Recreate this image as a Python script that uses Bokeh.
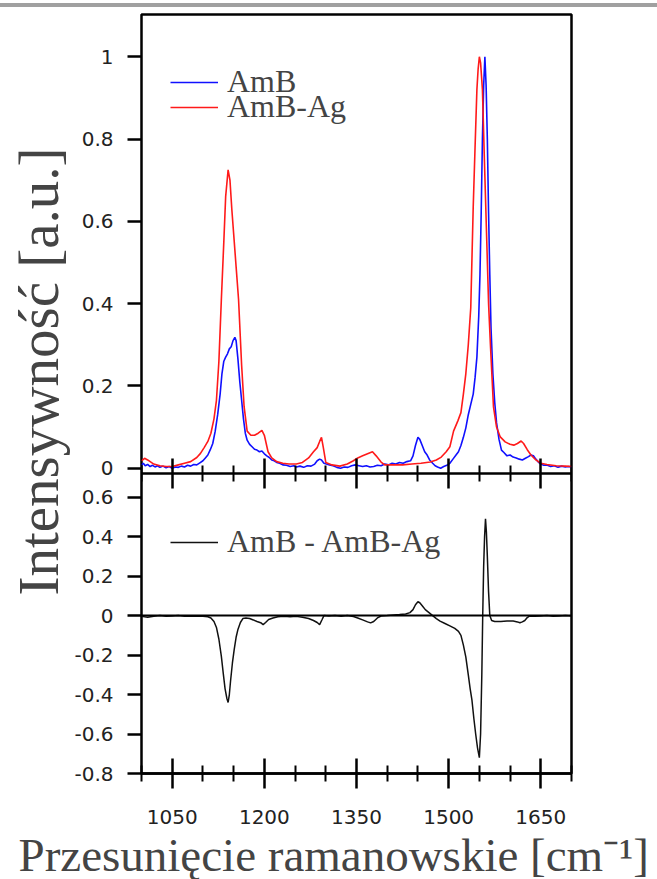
from bokeh.plotting import figure
from bokeh.models import (Range1d, LinearAxis, FixedTicker, Span, Legend, LegendItem,
                          Title, Div)
from bokeh.layouts import column
from bokeh.embed import file_html
from bokeh.resources import INLINE

# ---------------- data ----------------
amb_x = [1000, 1003, 1006, 1010, 1014, 1018, 1022, 1026, 1030, 1035, 1040, 1045, 1050, 1055,
         1060, 1065, 1070, 1075, 1080, 1085, 1090, 1095, 1100, 1104, 1108, 1112, 1116, 1120,
         1124, 1128, 1131, 1134, 1137, 1140, 1143, 1146, 1149, 1152, 1154, 1157, 1160, 1163,
         1166, 1169, 1172, 1176, 1180, 1184, 1188, 1192, 1196, 1200, 1204, 1208, 1212, 1216,
         1220, 1225, 1230, 1236, 1242, 1248, 1252, 1258, 1264, 1270, 1276, 1282, 1286, 1290,
         1293, 1297, 1301, 1306, 1312, 1318, 1324, 1330, 1336, 1342, 1348, 1354, 1360, 1366,
         1372, 1378, 1384, 1390, 1396, 1402, 1408, 1414, 1420, 1426, 1432, 1438, 1442, 1446,
         1450, 1453, 1457, 1461, 1465, 1469, 1474, 1478, 1482, 1487, 1492, 1497, 1502, 1507,
         1512, 1516, 1520, 1524, 1528, 1532, 1536, 1540, 1543, 1546, 1549, 1551, 1553, 1555,
         1557, 1559, 1561, 1563, 1565, 1567, 1569, 1572, 1575, 1578, 1582, 1586, 1590, 1595,
         1600, 1605, 1610, 1615, 1620, 1625, 1630, 1634, 1638, 1642, 1646, 1650, 1655, 1660,
         1666, 1672, 1678, 1684, 1690, 1695, 1700]
amb_y = [0.008, 0.012, 0.006, 0.009, 0.004, 0.007, 0.003, 0.006, 0.002, 0.005, 0.001, 0.004,
         0.0, 0.003, 0.002, 0.005, 0.003, 0.007, 0.005, 0.009, 0.008, 0.013, 0.018, 0.025,
         0.032, 0.045, 0.06, 0.09, 0.13, 0.18, 0.23, 0.26, 0.27, 0.278, 0.29, 0.295, 0.31,
         0.318, 0.31, 0.265, 0.21, 0.165, 0.12, 0.085, 0.068, 0.058, 0.052, 0.046, 0.044, 0.04,
         0.042, 0.035, 0.03, 0.026, 0.02, 0.018, 0.014, 0.012, 0.008, 0.007, 0.004, 0.006,
         0.003, 0.005, 0.002, 0.006, 0.005, 0.01, 0.018, 0.022, 0.02, 0.012, 0.01, 0.008,
         0.006, 0.002, 0.0, 0.003, 0.002, 0.006, 0.008, 0.006, 0.004, 0.006, 0.003, 0.004,
         0.007, 0.006, 0.01, 0.008, 0.012, 0.01, 0.014, 0.012, 0.016, 0.018, 0.03, 0.055,
         0.075, 0.07, 0.055, 0.04, 0.032, 0.02, 0.012, 0.006, 0.003, 0.0, 0.004, 0.007, 0.012,
         0.022, 0.032, 0.04, 0.055, 0.075, 0.098, 0.13, 0.155, 0.18, 0.22, 0.27, 0.37, 0.47,
         0.62, 0.8, 0.93, 1.0, 0.93, 0.8, 0.62, 0.47, 0.34, 0.23, 0.16, 0.11, 0.07, 0.044,
         0.038, 0.03, 0.032, 0.027, 0.025, 0.022, 0.02, 0.024, 0.028, 0.032, 0.03, 0.022,
         0.015, 0.01, 0.007, 0.008, 0.004, 0.006, 0.002, 0.005, 0.003, 0.004, 0.003]

ag_x = [1000, 1005, 1010, 1020, 1030, 1040, 1050, 1060, 1070, 1080, 1090, 1096, 1102, 1108,
        1113, 1118, 1122, 1126, 1130, 1134, 1137, 1141, 1144, 1147, 1150, 1154, 1158, 1163,
        1167, 1172, 1178, 1184, 1190, 1196, 1200, 1206, 1212, 1220, 1230, 1240, 1252, 1262,
        1272, 1280, 1286, 1290, 1293, 1296, 1300, 1310, 1323, 1335, 1345, 1352, 1360, 1368,
        1376, 1382, 1390, 1396, 1410, 1425, 1440, 1455, 1470, 1480, 1488, 1496, 1502, 1508,
        1515, 1520, 1524, 1528, 1532, 1536, 1540, 1543, 1546, 1548, 1550, 1552, 1555, 1558,
        1562, 1565, 1568, 1573, 1578, 1584, 1592, 1600, 1606, 1612, 1618, 1622, 1628, 1634,
        1642, 1650, 1660, 1675, 1690, 1700]
ag_y = [0.018, 0.024, 0.02, 0.01, 0.006, 0.004, 0.004, 0.008, 0.012, 0.016, 0.026, 0.036,
        0.05, 0.065, 0.085, 0.12, 0.165, 0.26, 0.41, 0.55, 0.66, 0.725, 0.7, 0.63, 0.57, 0.49,
        0.41, 0.25, 0.15, 0.09, 0.08, 0.08, 0.085, 0.092, 0.08, 0.04, 0.025, 0.016, 0.012,
        0.01, 0.01, 0.014, 0.025, 0.04, 0.05, 0.065, 0.075, 0.05, 0.014, 0.008, 0.005, 0.01,
        0.018, 0.025, 0.03, 0.035, 0.04, 0.03, 0.015, 0.008, 0.008, 0.008, 0.01, 0.012, 0.015,
        0.02, 0.027, 0.04, 0.052, 0.09, 0.115, 0.135, 0.18, 0.23, 0.3, 0.39, 0.635, 0.78,
        0.92, 0.97, 1.0, 0.985, 0.92, 0.76, 0.555, 0.4, 0.3, 0.149, 0.1, 0.076, 0.064, 0.058,
        0.056, 0.06, 0.066, 0.06, 0.045, 0.032, 0.02, 0.012, 0.009, 0.006, 0.005, 0.004]

diff_x = [1000, 1010, 1020, 1030, 1040, 1050, 1060, 1070, 1080, 1090, 1100, 1108, 1113, 1118,
          1122, 1126, 1130, 1133, 1136, 1139, 1141, 1143, 1145, 1148, 1151, 1154, 1157, 1161,
          1165, 1170, 1176, 1182, 1188, 1194, 1198, 1202, 1207, 1214, 1222, 1232, 1242, 1252,
          1262, 1272, 1280, 1286, 1290, 1294, 1297, 1305, 1315, 1325, 1335, 1345, 1352, 1360,
          1368, 1373, 1378, 1384, 1390, 1400, 1410, 1420, 1430, 1437, 1442, 1446, 1450, 1453,
          1457, 1462, 1468, 1474, 1480, 1486, 1494, 1502, 1510, 1516, 1520, 1524, 1528, 1532,
          1535, 1538, 1541, 1544, 1547, 1550, 1552, 1554, 1555.5, 1557, 1558.5, 1560, 1561.5,
          1563, 1565, 1567, 1570, 1575, 1585, 1595, 1605, 1612, 1616, 1620, 1624, 1628, 1632,
          1640, 1650, 1660, 1670, 1680, 1690, 1700]
diff_y = [-0.004, -0.008, -0.003, 0.0, -0.003, -0.002, 0.0, -0.004, -0.002, -0.003, -0.004,
          -0.006, -0.012, -0.03, -0.06, -0.12, -0.207, -0.29, -0.37, -0.42, -0.44, -0.4, -0.33,
          -0.24, -0.17, -0.11, -0.07, -0.035, -0.015, -0.012, -0.015, -0.022, -0.03, -0.036,
          -0.046, -0.035, -0.02, -0.012, -0.006, -0.004, -0.006, -0.004, -0.008, -0.015,
          -0.025, -0.035, -0.046, -0.02, 0.0, -0.002, 0.0, -0.003, 0.0, -0.005, -0.012, -0.022,
          -0.032, -0.037, -0.03, -0.012, -0.002, 0.0, 0.003, 0.005, 0.008, 0.015, 0.03, 0.055,
          0.07, 0.065, 0.05, 0.03, 0.015, 0.0, -0.015, -0.028, -0.04, -0.052, -0.065, -0.08,
          -0.1, -0.15, -0.21, -0.3, -0.37, -0.43, -0.52, -0.6, -0.67, -0.72, -0.6, -0.3, 0.005,
          0.25, 0.4, 0.49, 0.42, 0.3, 0.12, 0.0, -0.025, -0.03, -0.03, -0.027, -0.028, -0.032,
          -0.036, -0.032, -0.025, -0.01, -0.002, -0.003, -0.002, 0.0, -0.003, -0.002, 0.0,
          -0.002]

x_major = [1050, 1200, 1350, 1500, 1650]
x_minor = [1000, 1100, 1150, 1250, 1300, 1400, 1450, 1550, 1600, 1700]
top_ticks = [0, 0.2, 0.4, 0.6, 0.8, 1]
top_labels = ["0", "0.2", "0.4", "0.6", "0.8", "1"]
bot_ticks = [-0.8, -0.6, -0.4, -0.2, 0, 0.2, 0.4, 0.6]
bot_labels = ["-0.8", "-0.6", "-0.4", "-0.2", "0", "0.2", "0.4", "0.6"]

x_title = "Przesunięcie ramanowskie [cm⁻¹]"
y_title = "Intensywność [a.u.]"
labels_top = ["AmB", "AmB-Ag"]
label_diff = "AmB - AmB-Ag"

# ---------------- figure ----------------
TICK_FONT = "DejaVu Sans"
SERIF = "'Liberation Serif', 'Times New Roman', serif"
TXT = "#444444"

TOP_START, TOP_END = -0.742, 1.1026      # upper panel scale (whole frame)
BOT_START, BOT_END = -0.8, 3.045         # lower panel scale (whole frame)

p = figure(frame_width=430, frame_height=759,
           x_range=Range1d(1000, 1700), y_range=Range1d(TOP_START, TOP_END),
           output_backend="svg", toolbar_location=None,
           x_axis_location=None, y_axis_location=None,
           min_border_left=141, min_border_right=86, min_border_top=7, min_border_bottom=100)
p.extra_y_ranges = {"bot": Range1d(BOT_START, BOT_END)}
p.grid.visible = False
p.outline_line_color = "black"
p.outline_line_width = 2.5
p.background_fill_color = "white"
p.border_fill_color = "white"

r_amb = p.line(amb_x, amb_y, line_color="#1010ff", line_width=1.6)
r_ag = p.line(ag_x, ag_y, line_color="#ff1a1a", line_width=1.6)
r_diff = p.line(diff_x, diff_y, line_color="#111111", line_width=1.5, y_range_name="bot")

p.add_layout(Span(location=0, dimension="width", y_range_name="bot",
                  line_color="black", line_width=2))


def style_x(ax, show_labels):
    ax.ticker = FixedTicker(ticks=x_major, minor_ticks=x_minor)
    ax.major_tick_in = 15
    ax.major_tick_out = 15
    ax.minor_tick_in = 8
    ax.minor_tick_out = 8
    ax.major_tick_line_width = 2.5
    ax.minor_tick_line_width = 2
    ax.axis_line_width = 2.5
    ax.major_label_text_font = TICK_FONT
    ax.major_label_text_font_size = "20px"
    ax.major_label_text_color = "#222222"
    ax.major_label_standoff = 21
    if not show_labels:
        ax.major_label_text_alpha = 0


xb = LinearAxis(y_range_name="bot")
style_x(xb, True)
p.add_layout(xb, "below")

xm = LinearAxis(fixed_location=-0.0122)   # boundary between the two panels
style_x(xm, False)
p.add_layout(xm, "below")

# one left axis carrying the tick labels of both panels
scale = (TOP_END - TOP_START) / (BOT_END - BOT_START)
bot_pos = [TOP_START + (v - BOT_START) * scale for v in bot_ticks]
y_pos = list(top_ticks) + bot_pos
y_lab = list(top_labels) + bot_labels

ya = LinearAxis()
ya.ticker = FixedTicker(ticks=y_pos, minor_ticks=[])
ya.major_label_overrides = dict(zip(y_pos, y_lab))
ya.major_tick_in = 0
ya.major_tick_out = 14
ya.major_tick_line_width = 2.5
ya.minor_tick_line_color = None
ya.axis_line_color = None
ya.major_label_text_font = TICK_FONT
ya.major_label_text_font_size = "20px"
ya.major_label_text_color = "#222222"
ya.major_label_standoff = 14
p.add_layout(ya, "left")

p.add_layout(Title(text=y_title, align="left", offset=178, standoff=4,
                   text_font=SERIF, text_font_size="57px", text_font_style="normal",
                   text_color=TXT), "left")
p.add_layout(Title(text=x_title, align="left", offset=-123, standoff=0,
                   text_font=SERIF, text_font_size="47px", text_font_style="normal",
                   text_color=TXT), "below")

common = dict(padding=0, margin=0, glyph_width=48, glyph_height=24, label_standoff=9,
              label_text_font=SERIF, label_text_color=TXT, label_text_font_size="32px",
              border_line_color=None, background_fill_alpha=0)
p.add_layout(Legend(items=[LegendItem(label=labels_top[0], renderers=[r_amb])],
                    location=(29, 673), **common))
p.add_layout(Legend(items=[LegendItem(label=labels_top[1], renderers=[r_ag])],
                    location=(29, 648), **common))
p.add_layout(Legend(items=[LegendItem(label=label_diff, renderers=[r_diff])],
                    location=(29, 213), **common))

bar = Div(text="", width=657, height=4, margin=(3, 0, 0, 0),
          styles={"background-color": "#a0a0a0"})

layout = column(bar, p, spacing=0)

with open("out.html", "w") as f:
    f.write(file_html(layout, INLINE))
